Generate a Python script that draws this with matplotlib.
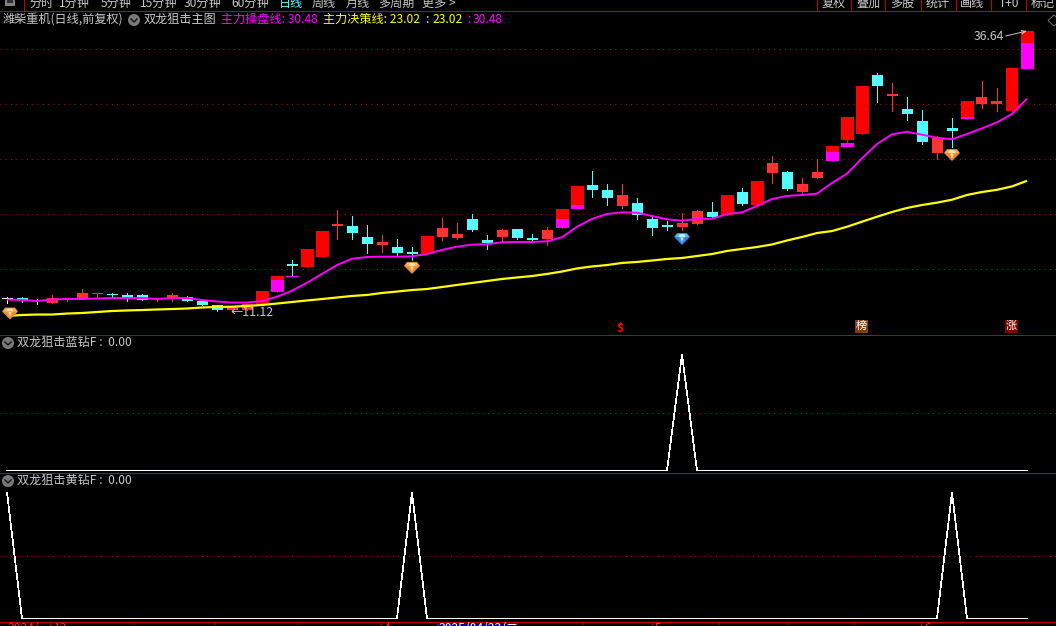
import matplotlib
matplotlib.use("Agg")
import matplotlib.pyplot as plt
from matplotlib.patches import Polygon, Rectangle, Circle
from matplotlib.transforms import Affine2D

plt.rcParams['font.family'] = ['Noto Sans CJK SC', 'DejaVu Sans']

# ---------- data ----------
kinds = ['w','c','c','r','r','r','r','c','c','c','r','r','c','c','c','r','r','R','R','c','R','R',
         'r','c','c','r','c','c','R','r','r','c','c','r','c','c','r','R','R','c','c','r','c','c','c',
         'r','r','c','R','c','R','r','c','r','r','R','R','R','c','r','c','c','r','c','R','r','r','R','R']
opens = [12.27,12.36,12.18,11.91,12.27,12.27,12.73,12.73,12.64,12.60,12.27,12.27,12.41,12.09,11.70,11.30,11.30,11.82,12.91,15.48,15.18,16.09,
         18.91,18.91,17.91,17.18,17.00,16.55,16.36,17.91,17.82,19.55,17.64,17.91,18.64,17.82,17.73,18.73,20.82,22.64,22.18,20.73,21.00,19.55,19.02,
         18.82,19.09,20.18,19.91,22.00,20.82,23.73,23.82,22.00,23.27,24.82,26.73,27.27,32.64,30.73,29.55,28.45,25.55,27.82,28.64,30.00,30.00,29.36,33.18]
closes = [12.36,12.14,12.09,12.32,12.36,12.82,12.82,12.64,12.23,12.18,12.36,12.64,12.11,11.73,11.27,11.57,11.82,13.00,14.36,15.27,16.82,18.45,
          19.09,18.27,17.27,17.45,16.45,16.36,18.00,18.73,18.18,18.55,17.36,18.55,17.82,17.68,18.55,20.45,22.55,22.18,21.45,21.73,19.91,18.73,18.86,
          19.18,20.27,19.73,21.73,20.91,23.00,24.64,22.27,22.73,23.82,26.18,28.82,31.64,31.64,30.91,29.09,26.55,26.91,27.55,30.27,30.64,30.27,33.27,36.64]
highs = [12.45,12.41,12.27,12.64,12.36,13.18,12.82,12.82,12.82,12.73,12.36,12.82,12.55,12.27,11.70,11.57,11.82,13.00,14.36,15.82,16.82,18.45,
         20.36,19.82,19.00,18.09,17.73,17.00,18.00,19.64,19.18,20.00,18.09,18.64,18.64,18.18,18.82,20.45,22.55,23.91,22.73,22.73,21.45,19.91,19.36,
         20.09,20.36,21.09,21.73,22.36,23.00,25.27,23.91,23.27,25.00,26.18,28.82,31.64,32.82,31.91,30.64,29.45,27.09,28.73,30.27,32.09,31.45,33.27,36.64]
lows = [11.91,12.00,11.82,11.91,12.05,12.27,12.36,12.45,12.09,12.18,12.05,12.09,12.09,11.73,11.18,11.12,11.30,11.82,12.91,14.32,15.18,16.09,
        17.73,17.73,16.45,16.55,16.27,15.82,16.36,17.64,17.73,18.45,16.82,17.45,17.73,17.45,17.18,18.73,20.45,21.55,20.82,20.55,19.55,18.09,18.55,
        18.55,19.09,19.64,19.91,20.82,20.82,22.82,22.18,21.73,23.27,24.82,26.09,27.27,30.18,29.36,28.55,26.36,25.00,26.09,28.64,29.64,29.36,29.36,33.18]

# magenta segments drawn on parts of some candles
seg_index = [18, 19, 37, 38, 55, 56, 64, 68]
seg_low = [12.91, 14.27, 18.73, 20.45, 24.82, 26.09, 28.64, 33.18]
seg_high = [14.00, 14.36, 19.55, 20.82, 25.64, 26.45, 28.82, 35.55]

operate_line = [12.23,12.18,12.09,12.23,12.27,12.27,12.32,12.36,12.36,12.36,12.27,12.36,12.36,12.18,12.05,11.95,11.95,12.09,12.48,13.03,13.75,14.55,
                15.36,15.93,16.09,16.12,16.12,16.15,16.36,16.73,17.03,17.21,17.25,17.43,17.45,17.45,17.52,17.88,18.84,19.55,20.00,20.15,20.12,19.82,19.52,
                19.39,19.55,19.57,20.00,20.15,20.73,21.36,21.64,21.73,21.85,22.82,23.66,25.06,26.36,27.24,27.48,27.21,26.93,26.79,27.27,27.79,28.33,29.09,30.48]
decision_line = [10.73,10.82,10.86,10.86,10.95,11.00,11.09,11.18,11.23,11.27,11.32,11.36,11.41,11.50,11.55,11.57,11.64,11.73,11.86,12.00,12.14,12.27,
                 12.41,12.55,12.64,12.82,12.95,13.09,13.18,13.36,13.55,13.73,13.91,14.09,14.23,14.36,14.55,14.77,15.05,15.23,15.36,15.55,15.64,15.77,15.91,
                 16.00,16.18,16.36,16.64,16.82,17.00,17.23,17.59,17.91,18.27,18.45,18.84,19.30,19.75,20.18,20.55,20.82,21.03,21.30,21.73,22.00,22.20,22.51,23.02]

grid_prices = [15, 20, 25, 30, 35]
blue_signal_at = [45]
yellow_signal_at = [0, 27, 63]
orange_gems = [(0.2, 10.95), (27.0, 15.10), (63.0, 25.36)]
blue_gems = [(45.0, 17.73)]
high_label = (68, 36.64)
low_label = (15, 11.12)

toolbar_left = [("分时", 29), ("1分钟", 59), ("5分钟", 101), ("15分钟", 140), ("30分钟", 184), ("60分钟", 231),
                ("日线", 279), ("周线", 312), ("月线", 346), ("多周期", 378), ("更多 >", 422)]
toolbar_right = [("复权", 822), ("叠加", 856), ("多股", 890), ("统计", 926), ("画线", 960), ("T+0", 999), ("标记", 1031)]
toolbar_seps = [817, 851, 885, 920.5, 955.5, 991, 1025.5]
date_ticks = [50, 133, 215, 298, 381, 517, 583, 652, 719, 787, 854, 921]
tall_ticks = [50, 381, 652, 921]
cursor_date = "2025/04/22/二"

# ---------- layout ----------
W, H = 1056, 626
RED = "#C00000"
DOT = "#D00000"
GREY = "#C8C8C8"
FS = 8.7
fig = plt.figure(figsize=(W / 100, H / 100), dpi=100, facecolor="black")

def panel(y_top, y_bot):
    ax = fig.add_axes([0, 1 - y_bot / H, 1, (y_bot - y_top) / H], facecolor="black", zorder=1)
    ax.patch.set_alpha(0)
    ax.set_xlim(-7 / 15, (W - 7) / 15)
    ax.axis("off")
    return ax

ax_main = panel(11, 334)
ax_main.set_ylim(35 - 285 / 11, 35 + 38 / 11)
ax_blue = panel(335, 472)
ax_blue.set_ylim(-1.5 / 116, 135.5 / 116)
ax_yellow = panel(472, 621)
ax_yellow.set_ylim(-2.5 / 126, 146.5 / 126)
chrome = fig.add_axes([0, 0, 1, 1], zorder=5)
chrome.patch.set_alpha(0)
chrome.set_xlim(0, W)
chrome.set_ylim(H, 0)
chrome.axis("off")

dotted = dict(color=DOT, lw=0.72, linestyle=(0, (1, 4.3)), antialiased=True, dash_capstyle="butt")
for p in grid_prices:
    ax_main.axhline(p, **dotted)
ax_blue.axhline(0.5, **dotted)
ax_yellow.axhline(0.5, **dotted)

# ---------- candles ----------
COL = {"w": "#FFFFFF", "c": "#54FCFC", "r": "#FF3232", "R": "#FF0000"}
XS = list(range(len(opens)))
for i in XS:
    c = COL[kinds[i]]
    wide = kinds[i] == "R"
    ax_main.vlines(i, lows[i], highs[i], color=c, lw=0.72, antialiased=False, zorder=2)
    b = min(opens[i], closes[i])
    h = max(abs(opens[i] - closes[i]), 1 / 11)
    ax_main.bar(i, h, bottom=b, width=(13 if wide else 11) / 15, color=c, linewidth=0, antialiased=False, zorder=3)
ax_main.bar(seg_index, [t - l for t, l in zip(seg_high, seg_low)], bottom=seg_low,
            width=13 / 15, color="#FF00FF", linewidth=0, antialiased=False, zorder=4)

ax_main.plot(XS, operate_line, color="#FF00FF", lw=1.4, zorder=5, solid_capstyle="butt")
ax_main.plot(XS, decision_line, color="#FFFF00", lw=1.6, zorder=6, solid_capstyle="butt")

# ---------- indicator panels ----------
blue_vals = [1 if i in blue_signal_at else 0 for i in XS]
yellow_vals = [1 if i in yellow_signal_at else 0 for i in XS]
ax_blue.plot(XS, blue_vals, color="white", lw=0.5, zorder=3, antialiased=False)
ax_yellow.plot(XS, yellow_vals, color="white", lw=0.5, zorder=3, antialiased=False)

# ---------- gems ----------
def gem(x, y, light, mid, dark, pale):
    px, py = ax_main.transData.transform((x, y))
    tr = Affine2D().translate(px, py)
    parts = [([(-8, 2), (-5, 6), (5, 6), (8, 2), (0, -6)], mid),
             ([(-5, 5), (5, 5), (7, 2), (-7, 2)], light),
             ([(-2.5, 5), (2.5, 5), (3.5, 2), (-3.5, 2)], pale),
             ([(-3.5, 2), (3.5, 2), (0, -5)], dark),
             ([(-1.5, 1.5), (1.5, 1.5), (0, -3)], pale)]
    for verts, col in parts:
        ax_main.add_patch(Polygon(verts, closed=True, facecolor=col, edgecolor="none",
                                  transform=tr, zorder=7, clip_on=False))

for gx, gy in orange_gems:
    gem(gx, gy, "#F8B060", "#E88A30", "#F09A40", "#FFE0B0")
for gx, gy in blue_gems:
    gem(gx, gy, "#60B4F0", "#2F80E0", "#4898E8", "#C8ECFF")

# ---------- high/low labels ----------
hx, hy = high_label
ax_main.annotate(f"{hy:.2f}", xy=(hx, hy), xytext=(-53, -6), textcoords="offset pixels",
                 color=GREY, fontsize=8.8, ha="left", va="center", zorder=8)
ax_main.annotate("", xy=(hx, hy), xytext=(-21, -5), textcoords="offset pixels",
                 arrowprops=dict(arrowstyle="->,head_width=0.12,head_length=0.3", color=GREY, lw=0.7,
                                 shrinkA=0, shrinkB=0), zorder=8)
lx, ly = low_label
ax_main.annotate(f"←{ly:.2f}", xy=(lx, ly), xytext=(-1, -1), textcoords="offset pixels",
                 color=GREY, fontsize=8.8, ha="left", va="center", zorder=8)

# ---------- chrome: red lines ----------
for y in [10.5, 334.5, 472.5, 621.5]:
    chrome.plot([0, W], [y, y], color=RED, lw=0.72, antialiased=False)
for x in toolbar_seps + [23.5]:
    chrome.plot([x, x], [0, 10], color=RED, lw=0.72, antialiased=False)
chrome.add_patch(Rectangle((5, 0), 10, 6, facecolor="#808080", edgecolor="none"))
chrome.add_patch(Rectangle((7, 0), 6, 3, facecolor="#303030", edgecolor="none"))

# ---------- toolbar ----------
for label_text, x in toolbar_left:
    chrome.text(x, 7, label_text, color="#54FCFC" if label_text == "日线" else GREY, fontsize=FS, ha="left", va="baseline")
for label_text, x in toolbar_right:
    chrome.text(x, 7, label_text, color=GREY, fontsize=FS, ha="left", va="baseline")

# ---------- title lines ----------
def icon(x, y):
    chrome.add_patch(Circle((x, y), 6, facecolor="#7A7A7A", edgecolor="none"))
    chrome.plot([x - 3, x, x + 3], [y - 1, y + 2, y - 1], color="#1A1A1A", lw=1.1)

def label(x, y, s, c=GREY):
    chrome.text(x, y, s, color=c, fontsize=FS, ha="left", va="center")

label(3, 19.5, "潍柴重机(日线,前复权)")
icon(134, 20)
label(143.5, 19.5, "双龙狙击主图")
label(221, 19.5, f"主力操盘线: {operate_line[-1]:.2f}", "#FF00FF")
label(323, 19.5, f"主力决策线: {decision_line[-1]:.2f}", "#FFFF00")
label(425, 19.5, ":", "#FFFF00")
label(432, 19.5, f"{decision_line[-1]:.2f}", "#FFFF00")
label(467, 19.5, ":", "#FF00FF")
label(473, 19.5, f"{operate_line[-1]:.2f}", "#FF00FF")
icon(8, 343)
label(17, 342.5, f"双龙狙击蓝钻F :  {blue_vals[-1]:.2f}")
icon(8, 481)
label(17, 480.5, f"双龙狙击黄钻F :  {yellow_vals[-1]:.2f}")

# ---------- corner mark ----------
chrome.add_patch(Polygon([(1048, 20.5), (1054, 15), (1060, 20.5), (1054, 26)], closed=True,
                         facecolor="none", edgecolor="#707070", lw=0.72))

# ---------- event badges ----------
chrome.add_patch(Rectangle((855, 320), 13, 13, facecolor="#80400C", edgecolor="none"))
chrome.text(861.5, 326.3, "榜", color="white", fontsize=8, ha="center", va="center")
chrome.add_patch(Rectangle((1005, 320), 13, 13, facecolor="#800000", edgecolor="none"))
chrome.text(1011.5, 326.3, "涨", color="white", fontsize=8, ha="center", va="center")
chrome.text(620.5, 329, "S", color="#FF0000", fontsize=8, fontweight="bold", ha="center", va="center")
chrome.add_patch(Polygon([(618, 325), (620.5, 322), (623, 325)], closed=True, facecolor="#FF0000", edgecolor="none"))

# ---------- date strip ----------
for x in date_ticks:
    chrome.plot([x, x], [621.5, 626 if x in tall_ticks else 623.5], color=RED, lw=0.72, antialiased=False)
chrome.text(7, 632.5, "2024/", color="#FF3232", fontsize=FS, ha="left", va="baseline")
chrome.text(54, 632.5, "12", color="#FF3232", fontsize=FS, ha="left", va="baseline")
chrome.text(384, 632.5, "4", color="#FF3232", fontsize=FS, ha="left", va="baseline")
chrome.text(655, 632.5, "5", color="#FF3232", fontsize=FS, ha="left", va="baseline")
chrome.text(924, 632.5, "6", color="#FF3232", fontsize=FS, ha="left", va="baseline")
chrome.add_patch(Rectangle((436.5, 621.5), 77, 6, facecolor="#000080", edgecolor="#3030C0", lw=0.72))
chrome.text(438, 632.5, cursor_date, color="white", fontsize=FS, ha="left", va="baseline")

fig.savefig("out.png", dpi=100, facecolor="black")
